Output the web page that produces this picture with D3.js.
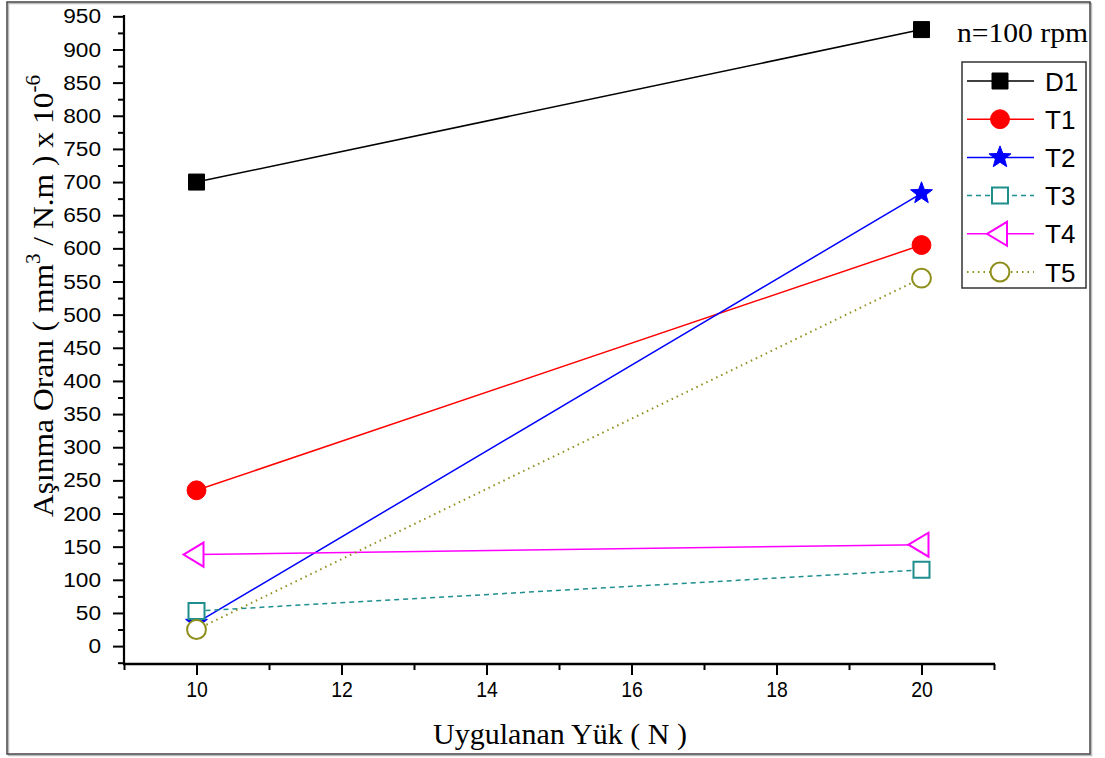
<!DOCTYPE html>
<html>
<head>
<meta charset="utf-8">
<script src="https://cdn.jsdelivr.net/npm/d3@7/dist/d3.min.js"></script>
<style>
  html, body { margin: 0; padding: 0; background: #fff; }
  svg { display: block; }
</style>
</head>
<body>
<svg id="chart" width="1105" height="758"></svg>
<script>
// ---- data ----
const loads = [10, 20];
const seriesNames = ["D1", "T1", "T2", "T3", "T4", "T5"];
const D1 = [700, 930];
const T1 = [235, 605];
const T2 = [35, 683];
const T3 = [53, 115];
const T4 = [138, 153];
const T5 = [25, 555];
const xMajorTicks = [10, 12, 14, 16, 18, 20];
const xMinorTicks = [9, 11, 13, 15, 17, 19, 21];
const yMajorTicks = d3.range(0, 951, 50);
const yMinorTicks = d3.range(-25, 951, 50);
const xTitle = "Uygulanan Yük ( N )";
const annotation = "n=100 rpm";

const seriesValues = [D1, T1, T2, T3, T4, T5];
const styles = [
  { color: "#000000", shape: "square", fill: true,  dash: null },
  { color: "#ff0000", shape: "circle", fill: true,  dash: null },
  { color: "#0000ff", shape: "star",   fill: true,  dash: null },
  { color: "#1f8e8e", shape: "square", fill: false, dash: "5,4" },
  { color: "#ff00ff", shape: "triL",   fill: false, dash: null },
  { color: "#8f8f1c", shape: "circle", fill: false, dash: "1.5,4" }
];

const svg = d3.select("#chart");

// outer frame
svg.append("rect").attr("x", 8.5).attr("y", 3.5).attr("width", 1083).attr("height", 752)
  .attr("fill", "none").attr("stroke", "#bbb").attr("stroke-width", 1.5);
svg.append("rect").attr("x", 7).attr("y", 2).attr("width", 1083).attr("height", 752)
  .attr("fill", "none").attr("stroke", "#444").attr("stroke-width", 1.5);

const x = d3.scaleLinear().domain([9, 21]).range([124, 994]);
const y = d3.scaleLinear().domain([-27, 952]).range([664, 15]);

// ---- axes ----
const yAxisMajor = d3.axisLeft(y).tickValues(yMajorTicks).tickSize(11).tickPadding(12).tickFormat(d3.format("d"));
const yAxisMinor = d3.axisLeft(y).tickValues(yMinorTicks).tickSize(6).tickFormat("");
const xAxisMajor = d3.axisBottom(x).tickValues(xMajorTicks).tickSize(11).tickPadding(6).tickFormat(d3.format("d"));
const xAxisMinor = d3.axisBottom(x).tickValues(xMinorTicks).tickSize(6).tickFormat("");

const gy = svg.append("g").attr("transform", "translate(124,0)");
gy.call(yAxisMajor);
const gy2 = svg.append("g").attr("transform", "translate(124,0)");
gy2.call(yAxisMinor);
const gx = svg.append("g").attr("transform", "translate(0,664)");
gx.call(xAxisMajor);
const gx2 = svg.append("g").attr("transform", "translate(0,664)");
gx2.call(xAxisMinor);

[gy, gy2, gx, gx2].forEach(g => {
  g.selectAll(".domain").remove();
  g.selectAll("line").attr("stroke", "#000").attr("stroke-width", 2);
});
gy.selectAll("text").attr("font-family", "Liberation Sans, Arial, sans-serif")
  .attr("font-size", 20.5).attr("fill", "#000")
  .each(function () {
    const n = this.textContent.length;
    d3.select(this).attr("textLength", n * 12.6).attr("lengthAdjust", "spacingAndGlyphs");
  });
gx.selectAll("text").attr("font-family", "Liberation Sans, Arial, sans-serif")
  .attr("font-size", 22).attr("fill", "#000")
  .each(function () {
    const n = this.textContent.length;
    d3.select(this).attr("textLength", n * 10.8).attr("lengthAdjust", "spacingAndGlyphs");
  });

// axis lines
svg.append("line").attr("x1", 124).attr("x2", 124).attr("y1", y(952)).attr("y2", 665)
  .attr("stroke", "#000").attr("stroke-width", 2.2);
svg.append("line").attr("x1", 123).attr("x2", 995).attr("y1", 664).attr("y2", 664)
  .attr("stroke", "#000").attr("stroke-width", 2.5);

// ---- markers ----
function starPath(R) {
  const r = R * 0.42;
  const pts = [];
  for (let i = 0; i < 10; i++) {
    const a = -Math.PI / 2 + i * Math.PI / 5;
    const rad = i % 2 === 0 ? R : r;
    pts.push([rad * Math.cos(a), rad * Math.sin(a)]);
  }
  return "M" + pts.map(p => p[0].toFixed(2) + "," + p[1].toFixed(2)).join("L") + "Z";
}
function markerPath(shape) {
  if (shape === "square") return d3.symbol(d3.symbolSquare, 256)();
  if (shape === "circle") return d3.symbol(d3.symbolCircle, 280)();
  if (shape === "star") return starPath(11.5);
  if (shape === "triL") return "M-13,0L7,-12L7,12Z";
}
function drawMarker(g, st, cx, cy) {
  g.append("path").attr("d", markerPath(st.shape))
    .attr("transform", `translate(${cx},${cy})`)
    .attr("fill", st.fill ? st.color : "#fff")
    .attr("stroke", st.color)
    .attr("stroke-width", st.fill ? 1 : 2);
}

const line = d3.line().x((d, i) => x(loads[i])).y(d => y(d));
const plot = svg.append("g");
seriesValues.forEach((vals, si) => {
  const st = styles[si];
  const g = plot.append("g");
  g.append("path").datum(vals).attr("d", line)
    .attr("fill", "none").attr("stroke", st.color)
    .attr("stroke-width", st.dash && st.dash.startsWith("1.5") ? 2 : 1.5)
    .attr("stroke-dasharray", st.dash);
  vals.forEach((v, i) => drawMarker(g, st, x(loads[i]), y(v)));
});

// ---- legend ----
const lg = svg.append("g");
lg.append("rect").attr("x", 962).attr("y", 62).attr("width", 124).attr("height", 226)
  .attr("fill", "#fff").attr("stroke", "#333").attr("stroke-width", 1.5);
seriesNames.forEach((name, i) => {
  const st = styles[i];
  const cy = 81 + i * 38.2;
  lg.append("line").attr("x1", 967).attr("x2", 1034).attr("y1", cy).attr("y2", cy)
    .attr("stroke", st.color).attr("stroke-width", st.dash && st.dash.startsWith("1.5") ? 2 : 1.5)
    .attr("stroke-dasharray", st.dash);
  drawMarker(lg, st, 1000, cy);
  lg.append("text").attr("x", 1045).attr("y", cy + 9.5)
    .attr("font-family", "Liberation Sans, Arial, sans-serif").attr("font-size", 26)
    .attr("fill", "#000").text(name);
});

// ---- annotation ----
svg.append("text").attr("x", 957).attr("y", 42)
  .attr("font-family", "Liberation Serif, Times New Roman, serif").attr("font-size", 27)
  .attr("textLength", 131).attr("lengthAdjust", "spacingAndGlyphs")
  .attr("fill", "#000").text(annotation);

// ---- titles ----
function fitWidth(sel, target) {
  const w = sel.node().getBBox().width;
  return target / w;
}
const xt = svg.append("text")
  .attr("font-family", "Liberation Serif, Times New Roman, serif").attr("font-size", 30)
  .attr("text-anchor", "middle").attr("fill", "#000").text(xTitle);
const sx = fitWidth(xt, 254);
xt.attr("transform", `translate(560,744) scale(${sx},1)`);

const yt = svg.append("text")
  .attr("font-family", "Liberation Serif, Times New Roman, serif").attr("font-size", 30)
  .attr("text-anchor", "middle").attr("fill", "#000");
yt.append("tspan").text("Aşınma Oranı ( mm");
yt.append("tspan").attr("dy", -13).attr("font-size", 20).text("3");
yt.append("tspan").attr("dy", 13).text(" / N.m ) x 10");
yt.append("tspan").attr("dy", -13).attr("font-size", 20).text("-6");
const sy = fitWidth(yt, 442);
yt.attr("transform", `translate(53,296) rotate(-90) scale(${sy},1)`);
</script>
</body>
</html>
